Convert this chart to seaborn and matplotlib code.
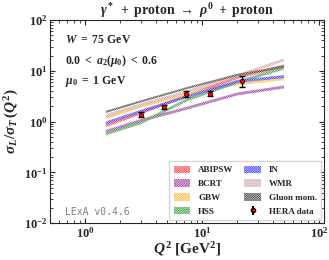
import numpy as np
import matplotlib
matplotlib.use("Agg")
import matplotlib.pyplot as plt
import seaborn as sns

# ---- data ----
q2_nodes = [1.5, 3.0, 7.5, 20.0, 50.0]

abipsw = [0.83, 1.48, 3.3, 7.4, 12.5]
bcrt = [0.64, 1.05, 1.85, 3.5, 4.8]
gbw = [1.18, 2.0, 3.5, 5.5, 7.0]
hss = [0.57, 0.95, 2.7, 6.0, 11.3]
in_model = [0.94, 1.6, 3.1, 6.2, 7.7]
wmr = [1.31, 2.15, 3.9, 8.1, 16.4]
gluon = [1.55, 2.5, 4.6, 8.3, 12.1]

models = ["ABIPSW", "BCRT", "GBW", "HSS", "IN", "WMR", "Gluon mom."]
model_vals = [abipsw, bcrt, gbw, hss, in_model, wmr, gluon]
model_colors = ["red", "purple", "orange", "green", "blue", "rosybrown", "black"]
band_factor = [1.065, 1.065, 1.065, 1.065, 1.065, 1.065, 1.045]

hera_q2 = [3.0, 4.67, 7.3, 11.7, 21.9]
hera_ratio = [1.37, 1.94, 3.54, 3.54, 6.35]
hera_err = [0.15, 0.2, 0.5, 0.4, 1.45]

sns.set_style("ticks")
plt.rcParams["font.family"] = ["Liberation Serif", "DejaVu Serif"]
plt.rcParams["font.weight"] = "bold"
plt.rcParams["mathtext.fontset"] = "custom"
plt.rcParams["mathtext.rm"] = "Liberation Serif:bold"
plt.rcParams["mathtext.it"] = "Liberation Serif:italic:bold"
plt.rcParams["mathtext.bf"] = "Liberation Serif:bold"
plt.rcParams["hatch.linewidth"] = 0.3

fig = plt.figure(figsize=(3.29, 2.60), dpi=100)
ax = fig.add_axes([0.152, 0.142, 0.833, 0.781])

for name, vals, col, f in zip(models, model_vals, model_colors, band_factor):
    v = np.array(vals)
    ax.fill_between(q2_nodes, v / f, v * f, facecolor=col, alpha=0.75,
                    edgecolor="white", hatch="x" * 14, linewidth=0, label=name)

ax.errorbar(hera_q2, hera_ratio, yerr=hera_err, fmt="none", ecolor="black",
            elinewidth=1.0, capsize=2.5, capthick=1.0, zorder=5)
sns.scatterplot(x=hera_q2, y=hera_ratio, ax=ax, color="red", edgecolor="black",
                s=10, linewidth=0.5, zorder=6)
ax.errorbar([], [], yerr=[], fmt="o", color="red", mec="black", ms=3,
            ecolor="black", capsize=2.5, label="HERA data")

ax.set_xscale("log")
ax.set_yscale("log")
ax.set_xlim(0.5, 110)
ax.set_ylim(0.01, 100)
ax.tick_params(which="both", direction="in", top=True, right=True, labelsize=9)
ax.tick_params(which="major", length=3.5, pad=2)
ax.tick_params(which="minor", length=2)

ax.set_xlabel(r"$Q^2\ [\mathrm{GeV}^2]$", fontsize=11, labelpad=0)
ax.set_ylabel(r"$\sigma_L/\sigma_T\,(Q^2)$", fontsize=11, labelpad=2)
ax.set_title(r"$\gamma^*\ +\ \mathrm{proton}\ \rightarrow\ \rho^0\ +\ \mathrm{proton}$",
             fontsize=10, pad=3)

ax.text(0.055, 0.885, r"$W\ =\ 75\ \mathrm{GeV}$", transform=ax.transAxes, fontsize=8.5)
ax.text(0.055, 0.785, r"$0.0\ <\ a_2(\mu_0)\ <\ 0.6$", transform=ax.transAxes, fontsize=8.5)
ax.text(0.055, 0.685, r"$\mu_0\ =\ 1\ \mathrm{GeV}$", transform=ax.transAxes, fontsize=8.5)
ax.text(0.055, 0.04, "LExA v0.4.6", transform=ax.transAxes, fontsize=7,
        color="gray", family="DejaVu Sans Mono", fontweight="normal")

handles, labels = ax.get_legend_handles_labels()
ax.legend(handles, labels, loc="lower right", ncol=2, fontsize=6.5,
          frameon=True, fancybox=False, borderpad=0.5, labelspacing=0.55,
          handlelength=1.8, handleheight=0.9, columnspacing=1.2,
          handletextpad=0.9, borderaxespad=0.3)

fig.savefig("out.png", dpi=100)
